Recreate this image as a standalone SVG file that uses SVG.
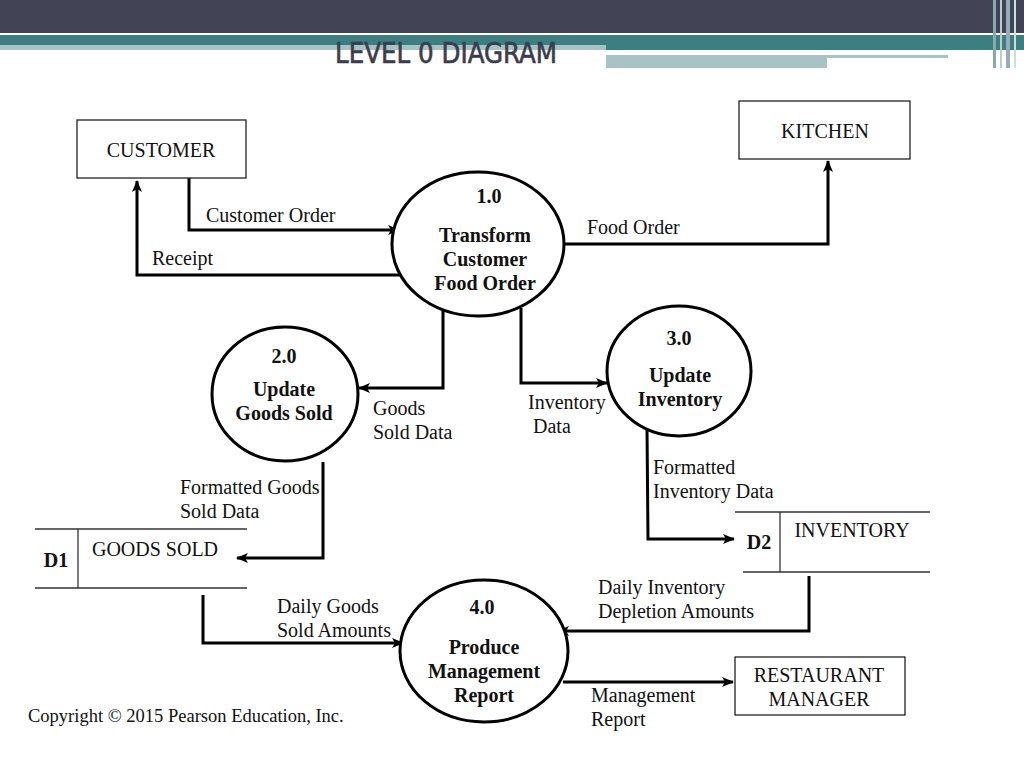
<svg xmlns="http://www.w3.org/2000/svg" width="1024" height="768" viewBox="0 0 1024 768">
<defs>
<style>
.t{font-family:"Liberation Serif","Times New Roman",serif;font-size:20px;fill:#111}
.b{font-weight:bold;text-anchor:middle}
.c{text-anchor:middle}
.box{fill:#fff;stroke:#222;stroke-width:1.3}
.proc{fill:#fff;stroke:#000;stroke-width:3}
.ln{fill:none;stroke:#333;stroke-width:1.3}
.flow{fill:none;stroke:#000;stroke-width:3;marker-end:url(#ah)}
</style>
<marker id="ah" viewBox="0 0 12 10" refX="11" refY="5" markerWidth="12" markerHeight="10" markerUnits="userSpaceOnUse" orient="auto">
<path d="M0,0 L12,5 L0,10 L3,5 z" fill="#000"/>
</marker>
</defs>
<rect width="1024" height="768" fill="#fff"/>
<!-- header -->
<g id="header">
<rect x="0" y="0" width="1024" height="33" fill="#424455"/>
<rect x="0" y="35" width="1024" height="10" fill="#3d7f80"/>
<rect x="0" y="45" width="606" height="5" fill="#a9c3c4"/>
<rect x="606" y="45" width="418" height="5" fill="#3d7f80"/>
<rect x="606" y="55" width="342" height="3" fill="#a9c3c4"/>
<rect x="606" y="58" width="221" height="10" fill="#a9c3c4"/>
<rect x="993" y="0" width="3" height="68" fill="#8aa"/>
<rect x="1000" y="0" width="2" height="68" fill="#bcc"/>
<rect x="1006" y="0" width="4" height="68" fill="#9ab"/>
<rect x="1014" y="0" width="2" height="68" fill="#cdd"/>
<text x="335" y="63" textLength="222" lengthAdjust="spacingAndGlyphs" style="font-family:'DejaVu Sans Condensed','DejaVu Sans',sans-serif;font-size:29px;fill:#3b3c4c;stroke:#3b3c4c;stroke-width:0.6">LEVEL 0 DIAGRAM</text>
</g>
<!-- connectors -->
<g id="connectors">
<polyline class="flow" points="189,178 189,230 399,230"/>
<polyline class="flow" points="408,275 137,275 137,181"/>
<polyline class="flow" points="563,244 828,244 828,161"/>
<polyline class="flow" points="443,308 443,388 359,388"/>
<polyline class="flow" points="521,308 521,383 607,383"/>
<polyline class="flow" points="647,428 648,539 734,539"/>
<polyline class="flow" points="323,462 323,558 237,558"/>
<polyline class="flow" points="203,595 203,643 403,643"/>
<polyline class="flow" points="809,576 809,631 558,631"/>
<polyline class="flow" points="563,682 733,682"/>
<text class="t" x="206" y="222">Customer Order</text>
<text class="t" x="152" y="265">Receipt</text>
<text class="t" x="587" y="234">Food Order</text>
<text class="t" x="373" y="415">Goods</text>
<text class="t" x="373" y="439">Sold Data</text>
<text class="t" x="528" y="409">Inventory</text>
<text class="t" x="533" y="433">Data</text>
<text class="t" x="653" y="474">Formatted</text>
<text class="t" x="653" y="498">Inventory Data</text>
<text class="t" x="180" y="494">Formatted Goods</text>
<text class="t" x="180" y="518">Sold Data</text>
<text class="t" x="277" y="613">Daily Goods</text>
<text class="t" x="277" y="637">Sold Amounts</text>
<text class="t" x="598" y="594">Daily Inventory</text>
<text class="t" x="598" y="618">Depletion Amounts</text>
<text class="t" x="591" y="702">Management</text>
<text class="t" x="591" y="726">Report</text>
</g>
<g id="customer">
<rect class="box" x="77" y="120" width="169" height="58"/>
<text class="t c" x="161" y="157">CUSTOMER</text>
</g>
<g id="kitchen">
<rect class="box" x="739" y="101" width="171" height="58"/>
<text class="t c" x="825" y="138">KITCHEN</text>
</g>
<g id="p1">
<ellipse class="proc" cx="478" cy="244" rx="86" ry="72"/>
<text class="t b" x="489" y="203">1.0</text>
<text class="t b" x="485" y="242">Transform</text>
<text class="t b" x="485" y="266">Customer</text>
<text class="t b" x="485" y="290">Food Order</text>
</g>
<g id="p2">
<ellipse class="proc" cx="285" cy="394" rx="73" ry="67"/>
<text class="t b" x="284" y="363">2.0</text>
<text class="t b" x="284" y="396">Update</text>
<text class="t b" x="284" y="420">Goods Sold</text>
</g>
<g id="p3">
<ellipse class="proc" cx="679" cy="371" rx="72" ry="65"/>
<text class="t b" x="679" y="345">3.0</text>
<text class="t b" x="680" y="382">Update</text>
<text class="t b" x="680" y="406">Inventory</text>
</g>
<g id="p4">
<ellipse class="proc" cx="484" cy="651" rx="84" ry="71"/>
<text class="t b" x="482" y="614">4.0</text>
<text class="t b" x="484" y="654">Produce</text>
<text class="t b" x="484" y="678">Management</text>
<text class="t b" x="484" y="702">Report</text>
</g>
<g id="d1">
<line class="ln" x1="35" y1="529" x2="247" y2="529"/>
<line class="ln" x1="35" y1="588" x2="247" y2="588"/>
<line class="ln" x1="78" y1="529" x2="78" y2="588"/>
<text class="t b" x="56" y="567">D1</text>
<text class="t c" x="155" y="556">GOODS SOLD</text>
</g>
<g id="d2">
<line class="ln" x1="735" y1="512" x2="930" y2="512"/>
<line class="ln" x1="743" y1="572" x2="930" y2="572"/>
<line class="ln" x1="780" y1="512" x2="780" y2="572"/>
<text class="t b" x="759" y="549">D2</text>
<text class="t c" x="852" y="537">INVENTORY</text>
</g>
<g id="manager">
<rect class="box" x="735" y="657" width="170" height="58"/>
<text class="t c" x="819" y="682">RESTAURANT</text>
<text class="t c" x="819" y="706">MANAGER</text>
</g>
<text x="28" y="722" style="font-family:'Liberation Serif',serif;font-size:18.5px;fill:#111">Copyright © 2015 Pearson Education, Inc.</text>
</svg>
